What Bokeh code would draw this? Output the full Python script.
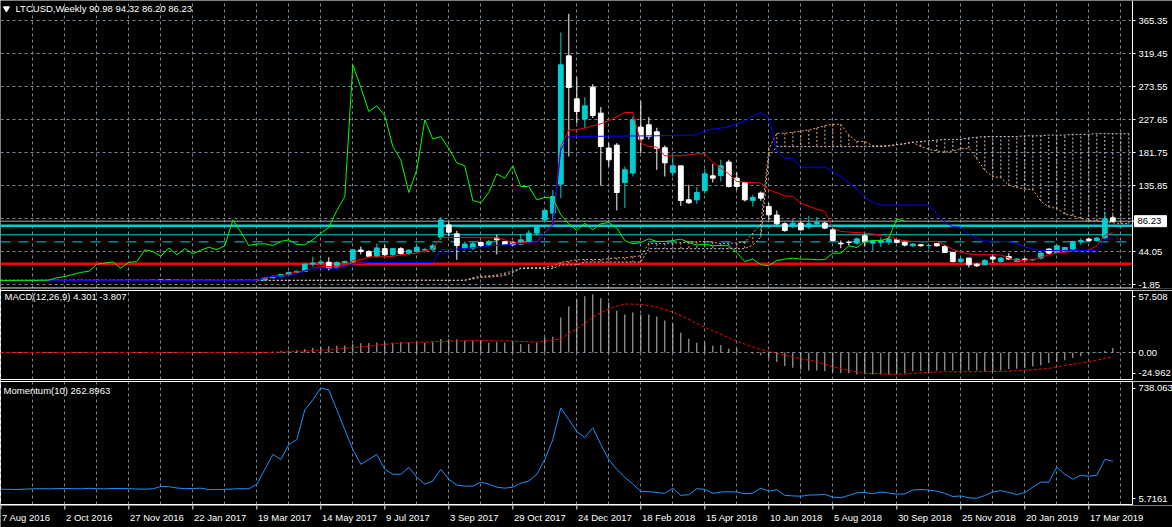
from bokeh.plotting import figure
from bokeh.layouts import column
from bokeh.models import Range1d, FixedTicker, ColumnDataSource
from bokeh.core.properties import value
from bokeh.embed import file_html
from bokeh.resources import INLINE

# ---------------- data ----------------
opens = [3.85, 3.75, 3.75, 3.7, 3.8, 3.85, 3.8, 3.85, 3.8, 3.85,
         3.85, 3.8, 3.9, 3.8, 3.85, 3.9, 3.9, 3.85, 3.8, 3.75,
         4.4, 4.35, 4.0, 3.8, 3.9, 3.85, 3.95, 3.75, 3.8, 3.85,
         3.9, 3.85, 3.9, 4.2, 7.5, 9.2, 12.0, 15.0, 16.5, 26.5,
         28.0, 29.0, 21.5, 29.0, 29.5, 46.0, 44.0, 37.5, 48.0, 39.5,
         48.0, 41.0, 44.0, 46.0, 46.5, 64.0, 81.0, 68.7, 48.8, 48.7,
         56.6, 53.4, 62.7, 57.6, 56.6, 54.3, 58.0, 69.6, 88.1, 97.5,
         137.8, 316.2, 256.4, 228.2, 272.7, 236.5, 187.9, 192.0, 140.0, 153.1,
         217.1, 220.3, 210.5, 188.3, 153.9, 163.2, 116.0, 116.0, 128.9, 149.3,
         149.8, 168.4, 146.1, 140.0, 115.0, 125.3, 106.6, 94.7, 82.6, 78.8,
         83.5, 78.0, 82.6, 83.5, 74.2, 55.7, 56.6, 55.7, 65.9, 55.7,
         56.6, 57.5, 60.3, 56.6, 52.0, 53.4, 52.4, 54.8, 51.0, 42.7,
         30.1, 34.9, 26.5, 25.5, 36.3, 30.1, 37.1, 30.1, 33.5, 32.5,
         34.9, 47.4, 42.7, 44.0, 47.4, 57.5, 61.3, 59.3, 62.7, 90.98]
highs = [4.0, 3.85, 3.85, 3.85, 3.95, 3.9, 3.95, 3.9, 3.9, 3.95,
         3.9, 3.95, 4.0, 3.9, 3.95, 4.0, 3.95, 3.95, 3.9, 4.5,
         4.6, 4.7, 4.1, 4.0, 3.95, 4.0, 4.0, 3.85, 3.9, 4.0,
         4.1, 4.0, 4.3, 8.0, 10.5, 13.0, 16.0, 17.5, 27.0, 37.0,
         33.0, 36.0, 30.0, 31.5, 47.0, 51.0, 46.0, 55.0, 53.0, 49.0,
         50.0, 47.0, 53.0, 49.0, 55.0, 92.0, 85.0, 72.8, 58.0, 58.0,
         58.0, 60.0, 67.3, 58.5, 58.0, 68.0, 74.0, 79.6, 103.0, 129.9,
         348.7, 374.7, 286.1, 258.8, 276.9, 244.9, 194.8, 194.8, 162.3, 231.8,
         252.7, 231.0, 216.1, 191.5, 176.2, 163.2, 136.8, 133.6, 158.7, 166.0,
         171.6, 171.6, 153.9, 140.0, 122.9, 127.5, 111.4, 101.1, 84.4, 89.1,
         85.4, 93.7, 91.9, 85.4, 76.6, 59.3, 59.3, 63.5, 69.6, 60.3,
         63.5, 64.9, 61.7, 58.0, 55.7, 54.5, 54.8, 56.0, 53.4, 44.0,
         36.3, 34.9, 27.9, 33.5, 40.4, 36.0, 41.8, 35.0, 35.0, 34.0,
         43.0, 48.5, 53.0, 50.5, 59.0, 62.7, 63.0, 64.0, 99.7, 94.32]
lows = [3.7, 3.65, 3.65, 3.7, 3.7, 3.7, 3.75, 3.75, 3.75, 3.8,
        3.75, 3.75, 3.75, 3.7, 3.8, 3.85, 3.8, 3.75, 3.7, 3.7,
        4.2, 3.5, 3.6, 3.75, 3.75, 3.8, 3.6, 3.65, 3.75, 3.75,
        3.8, 3.7, 3.8, 4.1, 7.0, 8.5, 11.5, 14.0, 16.0, 23.0,
        25.0, 17.6, 20.0, 27.5, 28.0, 40.0, 36.0, 36.0, 38.0, 38.0,
        39.0, 39.0, 43.0, 43.0, 45.0, 60.0, 65.0, 32.5, 46.4, 46.0,
        50.0, 51.0, 40.0, 53.0, 52.0, 53.0, 56.0, 66.0, 85.0, 88.1,
        118.0, 176.2, 222.6, 215.7, 229.6, 135.9, 162.3, 101.1, 104.4, 148.4,
        180.9, 200.0, 157.7, 148.4, 148.4, 107.6, 110.4, 110.4, 124.3, 140.0,
        141.4, 133.1, 129.9, 113.6, 106.6, 114.6, 88.1, 81.2, 71.5, 76.6,
        73.3, 75.2, 78.8, 75.2, 58.0, 48.8, 52.4, 53.4, 51.0, 45.0,
        50.2, 53.4, 55.7, 51.0, 51.0, 51.0, 47.4, 51.0, 41.8, 28.8,
        27.9, 21.8, 22.4, 24.6, 27.9, 29.0, 32.5, 29.5, 30.0, 30.5,
        33.0, 40.5, 42.0, 43.0, 46.5, 53.4, 58.0, 58.0, 60.3, 86.2]
closes = [3.75, 3.75, 3.7, 3.8, 3.85, 3.8, 3.85, 3.8, 3.85, 3.85,
          3.8, 3.9, 3.8, 3.85, 3.9, 3.9, 3.85, 3.8, 3.75, 4.4,
          4.35, 4.0, 3.8, 3.9, 3.85, 3.95, 3.75, 3.8, 3.85, 3.9,
          3.85, 3.9, 4.2, 7.5, 9.2, 12.0, 15.0, 16.5, 26.5, 28.0,
          29.5, 21.0, 29.0, 30.0, 46.4, 44.0, 37.5, 49.0, 39.5, 48.0,
          41.0, 46.0, 50.0, 46.5, 52.0, 88.0, 71.0, 52.4, 54.4, 54.8,
          52.4, 58.0, 60.3, 53.8, 53.4, 60.3, 69.6, 77.4, 101.1, 120.5,
          303.7, 272.2, 238.8, 246.7, 233.2, 190.1, 171.6, 126.1, 157.7, 227.2,
          200.4, 204.0, 187.3, 167.4, 163.2, 115.0, 111.8, 126.1, 152.1, 146.1,
          163.2, 134.5, 134.5, 115.9, 119.2, 118.3, 95.1, 82.6, 73.3, 83.5,
          74.2, 82.6, 84.4, 76.6, 59.3, 54.8, 56.5, 61.7, 58.0, 58.0,
          59.3, 61.3, 56.6, 53.0, 54.4, 52.0, 52.4, 52.0, 42.7, 30.1,
          33.5, 25.5, 24.2, 31.5, 33.5, 34.9, 33.5, 33.5, 32.5, 32.8,
          41.8, 41.8, 52.0, 49.6, 58.0, 59.3, 59.3, 62.7, 89.5, 86.23]

tenkan_idx = [0, 18, 19, 27, 28, 32, 33, 34, 35, 36, 37, 38, 39, 40, 42, 43, 44, 45, 46, 49,
              50, 52, 53, 54, 55, 62, 63, 64, 66, 67, 68, 69, 70, 71, 72, 73, 74, 75, 76, 77,
              78, 79, 80, 81, 82, 83, 85, 87, 88, 89, 90, 91, 92, 95, 96, 98, 99, 100, 101, 102,
              103, 104, 105, 108, 110, 111, 112, 113, 114, 117, 118, 119, 120, 121, 122, 125, 126, 127, 129, 130,
              131, 132, 134, 135, 136, 137, 138, 139]
tenkan_val = [3.9, 3.9, 4.1, 4.1, 3.9, 4.0, 6.0, 10.2, 10.2, 12.5, 15.5, 17.5, 21.0, 23.0, 23.0, 24.6, 31.5, 32.5, 36.3, 37.1,
              39.5, 41.8, 45.4, 47.4, 63.8, 63.0, 60.3, 55.7, 56.6, 58.0, 69.6, 83.5, 190.1, 213.3, 213.3, 215.7, 218.9, 221.7, 226.0, 231.8,
              237.4, 237.4, 194.8, 190.1, 189.3, 177.2, 177.2, 179.9, 179.9, 168.0, 160.0, 152.0, 141.4, 139.2, 129.9, 121.5, 120.6, 111.4, 107.0, 103.0,
              99.7, 76.6, 71.9, 69.6, 67.0, 64.9, 61.0, 59.0, 58.0, 58.0, 53.0, 47.0, 43.5, 40.5, 39.5, 39.5, 34.9, 31.5, 32.5, 36.0,
              39.5, 42.0, 44.5, 45.0, 46.0, 52.0, 66.3, 70.5]

kijun_idx = [0, 32, 33, 34, 36, 37, 39, 42, 43, 44, 46, 54, 55, 57, 60, 61, 64, 67, 68, 69,
             70, 71, 82, 87, 88, 89, 90, 91, 92, 93, 94, 95, 96, 97, 98, 99, 100, 103, 104, 105,
             106, 107, 108, 109, 110, 116, 117, 118, 119, 120, 121, 122, 123, 126, 127, 128, 129, 130, 137, 138,
             139]
kijun_val = [3.9, 3.9, 8.5, 9.3, 10.25, 13.0, 21.0, 21.0, 23.2, 26.5, 28.75, 28.75, 46.4, 47.4, 50.0, 51.5, 54.3, 56.6, 69.6, 80.0,
             185.5, 204.0, 205.0, 206.4, 212.0, 214.3, 215.7, 217.9, 221.0, 226.0, 232.0, 237.4, 230.0, 185.0, 174.0, 174.0, 161.4, 161.4, 155.0, 148.0,
             139.2, 131.0, 120.0, 112.0, 108.6, 108.6, 96.5, 85.0, 78.8, 78.0, 68.7, 62.0, 58.5, 58.0, 55.0, 51.0, 47.5, 45.5, 45.5, 61.7,
             61.7]

# Senkou spans (already displaced 26 bars forward), one value per bar 0..141
span_a = [3.9, 3.9, 3.9, 3.9, 3.9, 3.9, 3.9, 3.9, 3.9, 3.9,
          3.9, 3.9, 3.9, 3.9, 3.9, 3.9, 3.9, 3.9, 3.9, 3.9,
          3.9, 3.9, 3.9, 3.9, 3.9, 3.9, 3.9, 3.9, 3.9, 3.9,
          3.9, 3.9, 3.9, 3.9, 3.9, 3.9, 3.9, 3.9, 3.9, 3.9,
          3.9, 3.9, 3.9, 3.9, 3.9, 4.1, 4.1, 4.1, 4.1, 4.1,
          4.1, 4.1, 4.1, 4.1, 4.0, 3.9, 3.9, 3.9, 4.0, 7.7,
          9.8, 10.1, 11.4, 14.0, 17.0, 21.0, 22.0, 22.0, 22.0, 23.9,
          29.0, 30.6, 32.4, 33.0, 33.0, 33.0, 34.0, 35.3, 35.3, 37.1,
          38.0, 55.1, 55.0, 55.2, 56.0, 56.3, 57.0, 57.5, 58.0, 57.0,
          55.0, 55.5, 56.0, 57.3, 69.6, 82.0, 187.0, 208.5, 208.5, 210.0,
          211.5, 213.0, 216.0, 219.0, 221.0, 221.0, 206.0, 197.5, 197.0, 191.0,
          191.0, 191.0, 192.5, 194.0, 196.0, 190.0, 186.0, 184.0, 182.0, 184.0,
          187.0, 188.0, 173.0, 157.0, 148.0, 147.0, 136.0, 133.0, 131.0, 130.0,
          114.0, 106.0, 104.0, 96.0, 94.0, 90.0, 87.0, 87.0, 85.0, 84.0,
          83.0, 83.0]
span_b = [4.0, 4.0, 4.0, 4.0, 4.0, 4.0, 4.0, 4.0, 4.0, 4.0,
          4.0, 4.0, 4.0, 4.0, 4.0, 4.0, 4.0, 4.0, 4.0, 4.0,
          4.0, 4.0, 4.0, 4.0, 4.0, 4.0, 4.0, 4.0, 4.0, 4.0,
          4.0, 4.0, 4.0, 4.0, 4.0, 4.0, 4.0, 4.0, 4.0, 4.0,
          4.0, 4.0, 4.0, 4.0, 4.0, 4.1, 4.1, 4.1, 4.1, 4.1,
          4.1, 4.1, 4.1, 4.1, 4.1, 4.1, 4.1, 4.1, 4.1, 5.8,
          8.0, 8.5, 9.5, 10.5, 15.0, 20.3, 20.3, 20.3, 20.3, 20.3,
          25.2, 25.2, 25.2, 29.4, 29.4, 29.4, 29.4, 29.4, 29.4, 29.4,
          29.4, 48.0, 48.0, 48.0, 48.0, 48.0, 48.0, 48.0, 48.0, 48.0,
          48.0, 48.0, 48.0, 48.0, 53.0, 64.0, 176.0, 190.0, 190.0, 190.0,
          190.0, 190.0, 190.0, 190.0, 190.0, 190.0, 190.0, 190.0, 190.0, 190.0,
          190.0, 191.0, 193.0, 194.0, 196.0, 197.0, 198.0, 199.0, 200.0, 200.0,
          200.0, 202.0, 203.0, 204.0, 204.0, 204.0, 204.0, 204.0, 205.0, 205.0,
          205.0, 206.0, 206.0, 206.0, 207.0, 207.0, 207.0, 208.0, 208.0, 208.0,
          208.0, 208.0]

macd_hist = [0.0, 0.0, 0.0, 0.0, 0.0, 0.0, 0.0, 0.0, 0.0, 0.0,
             0.0, 0.0, 0.0, 0.0, 0.0, 0.0, 0.0, 0.0, 0.0, 0.0,
             0.0, 0.0, 0.0, 0.0, 0.0, 0.0, 0.0, 0.0, 0.0, 0.0,
             0.0, 0.0, 0.0, 0.3, 0.8, 1.3, 1.8, 2.3, 3.2, 4.3,
             5.2, 5.8, 6.2, 6.5, 7.8, 8.6, 8.8, 9.2, 9.3, 9.1,
             9.7, 9.4, 9.7, 9.1, 9.7, 12.5, 12.5, 12.2, 10.9, 10.6,
             11.6, 9.1, 9.7, 9.1, 9.7, 7.8, 7.8, 9.1, 14.1, 14.7,
             32.5, 42.8, 49.0, 52.2, 54.0, 50.3, 46.5, 38.7, 35.3, 37.2,
             35.3, 35.3, 33.4, 29.7, 26.6, 18.4, 12.8, 9.1, 9.1, 6.2,
             6.9, 3.7, 3.7, -0.3, -0.9, -2.5, -5.6, -8.7, -12.5, -14.1,
             -15.9, -16.6, -16.6, -17.2, -18.1, -19.1, -19.1, -20.3, -20.3, -20.3,
             -20.3, -20.3, -20.3, -19.1, -17.2, -17.2, -17.2, -16.6, -16.6, -16.6,
             -16.6, -16.6, -16.6, -17.2, -17.2, -16.6, -15.3, -15.0, -14.1, -12.8,
             -11.9, -9.7, -8.7, -7.2, -5.0, -3.4, -0.9, -0.3, 1.6, 4.3]
signal_idx = [0, 33, 36, 40, 44, 48, 49, 52, 56, 60, 64, 67, 68, 70, 71, 72, 73, 74, 75, 76,
              77, 78, 80, 82, 84, 85, 87, 88, 90, 92, 93, 95, 97, 99, 100, 102, 104, 106, 108, 110,
              112, 114, 116, 118, 120, 122, 125, 127, 129, 131, 133, 135, 137, 139]
signal_val = [0.0, 0.1, 0.7, 2.2, 4.5, 7.5, 8.4, 9.4, 10.6, 11.2, 10.6, 9.7, 10.6, 12.5, 17.8, 22.0, 27.0, 32.8, 37.0, 40.5,
              43.0, 45.0, 44.7, 42.2, 37.5, 34.4, 27.0, 23.5, 16.9, 10.5, 7.8, 2.8, -0.5, -4.2, -5.7, -8.5, -13.2, -16.6, -19.1, -19.7,
              -20.3, -19.4, -18.4, -17.8, -17.8, -17.8, -17.5, -16.9, -15.9, -14.7, -11.9, -9.7, -7.2, -3.8]

momentum = [97, 96, 95, 97, 99, 100, 99, 100, 101, 100,
            99, 102, 100, 99, 101, 101, 100, 98, 97, 99,
            113, 112, 104, 100, 101, 103, 94, 95, 96, 98,
            100, 99, 126, 215, 304, 274, 363, 392, 569, 629,
            699, 688, 569, 451, 333, 245, 274, 304, 215, 186,
            186, 227, 168, 127, 145, 215, 156, 121, 115, 115,
            139, 127, 109, 103, 109, 133, 145, 186, 274, 392,
            581, 511, 440, 404, 463, 363, 274, 215, 168, 127,
            85, 82, 78, 72, 103, 60, 64, 100, 96, 72,
            80, 82, 80, 70, 73, 103, 85, 94, 60, 57,
            55, 62, 63, 66, 50, 46, 60, 75, 78, 70,
            80, 74, 67, 69, 92, 95, 92, 85, 72, 53,
            57, 45, 43, 59, 80, 88, 78, 65, 76, 109,
            139, 139, 227, 186, 156, 180, 174, 180, 274, 262.9]

price_levels = [-1.85, 44.05, 89.95, 135.85, 181.75, 227.65, 273.55, 319.45, 365.35]
price_label_levels = [-1.85, 44.05, 135.85, 181.75, 227.65, 273.55, 319.45, 365.35]
price_label_texts = ["-1.85", "44.05", "135.85", "181.75", "227.65", "273.55", "319.45", "365.35"]
hline_levels = [26.9, 79.8, 67.3, 57.5]
last_price = 86.23
last_price_text = "86.23"

time_idx = [0, 8, 16, 24, 32, 40, 48, 56, 64, 72, 80, 88, 96, 104, 112, 120, 128, 136]
time_labels = ["7 Aug 2016", "2 Oct 2016", "27 Nov 2016", "22 Jan 2017", "19 Mar 2017",
               "14 May 2017", "9 Jul 2017", "3 Sep 2017", "29 Oct 2017", "24 Dec 2017",
               "18 Feb 2018", "15 Apr 2018", "10 Jun 2018", "5 Aug 2018", "30 Sep 2018",
               "25 Nov 2018", "20 Jan 2019", "17 Mar 2019"]

header_text = "LTCUSD,Weekly  90.98 94.32 86.20 86.23"
macd_text = "MACD(12,26,9) 4.301 -3.807"
mom_text = "Momentum(10) 262.8963"

# ---------------- styling ----------------
FONT = "Liberation Sans"
FS = "9.5px"
GRID = "#778899"
BULL = "#00CED1"
BEAR = "#FFFFFF"
SANDY = "#F4A460"
THISTLE = "#D8BFD8"

n = len(closes)
bars = list(range(n))
X0, X1 = -0.04, 141.46          # bar-range covered by the chart area (8 px per bar)
xr = Range1d(X0, X1)
grid_ticks = list(range(0, 144, 4))


def style_axis(ax):
    ax.axis_line_color = "white"
    ax.major_tick_line_color = "white"
    ax.major_tick_in = 0
    ax.major_tick_out = 3
    ax.minor_tick_line_color = None
    ax.major_label_text_color = "white"
    ax.major_label_text_font = FONT
    ax.major_label_text_font_size = FS
    ax.major_label_standoff = 3


def make_panel(frame_h, yr, top, bottom):
    p = figure(frame_width=1132, frame_height=frame_h, x_range=xr, y_range=yr,
               x_axis_location=None, y_axis_location="right",
               output_backend="svg", toolbar_location=None,
               min_border_left=0, min_border_right=40,
               min_border_top=top, min_border_bottom=bottom,
               background_fill_color="black", border_fill_color="black",
               outline_line_color="white", outline_line_width=1)
    p.xgrid.ticker = FixedTicker(ticks=grid_ticks)
    p.xgrid.grid_line_color = GRID
    p.xgrid.grid_line_dash = "3 3"
    p.ygrid.grid_line_color = GRID
    p.ygrid.grid_line_dash = "3 3"
    style_axis(p.yaxis[0])
    return p


# ---------------- main price panel (its price scale drawn in-frame so the
# last-price box can sit on it) ----------------
PX = 1.391                                   # price units per pixel
y_top, y_bot = 393.2, -6.02 - PX             # frame rows 0..288
p1 = figure(frame_width=1172, frame_height=288, x_range=Range1d(X0, X0 + 1172 / 8),
            y_range=Range1d(y_bot, y_top), x_axis_location=None, y_axis_location=None,
            output_backend="svg", toolbar_location=None, min_border=0, min_border_bottom=2,
            background_fill_color="black", border_fill_color="black", outline_line_color=None)
p1.xgrid.ticker = FixedTicker(ticks=grid_ticks)
p1.xgrid.grid_line_color = GRID
p1.xgrid.grid_line_dash = "3 3"
p1.ygrid.visible = False

nl = len(price_levels)
p1.segment(x0=[X0] * nl, y0=price_levels, x1=[X1] * nl, y1=price_levels,
           color=GRID, line_dash="3 3", line_width=1)

line_colors = ["#FF0000", BULL, BULL, BULL]
line_widths = [2.5, 2.5, 1, 1]
line_dashes = ["solid", "solid", "solid", "10 8"]
for lvl, c, w, d in zip(hline_levels, line_colors, line_widths, line_dashes):
    p1.segment(x0=[X0], y0=[lvl], x1=[X1], y1=[lvl], color=c, line_width=w, line_dash=d)
p1.segment(x0=[X0], y0=[last_price], x1=[X1], y1=[last_price], color="#A9A9A9", line_width=1)

# Ichimoku cloud (dotted hatch per bar) and span lines
cloud_idx = list(range(len(span_a)))
cloud_col = [SANDY if a >= b else THISTLE for a, b in zip(span_a, span_b)]
p1.segment(x0=cloud_idx, y0=span_a, x1=cloud_idx, y1=span_b, color=cloud_col,
           line_width=1, line_dash="2 2")
p1.line(cloud_idx, span_a, color=SANDY, line_width=1, line_dash="2 2")
p1.line(cloud_idx, span_b, color=THISTLE, line_width=1, line_dash="2 2")

# candles
colors = [BULL if c >= o else BEAR for o, c in zip(opens, closes)]
src = ColumnDataSource(dict(x=bars, h=highs, l=lows,
                            top=[max(o, c) for o, c in zip(opens, closes)],
                            bot=[min(o, c) for o, c in zip(opens, closes)],
                            color=colors))
p1.segment(x0="x", y0="l", x1="x", y1="h", color="color", line_width=1, source=src)
p1.vbar(x="x", width=0.6, top="top", bottom="bot", fill_color="color",
        line_color="color", line_width=1, source=src)

# Ichimoku lines
p1.line(tenkan_idx, tenkan_val, color="#FF0000", line_width=1)
p1.line(kijun_idx, kijun_val, color="#0000FF", line_width=1)
p1.line(bars[:n - 26], closes[26:], color="#00FF00", line_width=1)

# chart border (right and bottom) and the price scale
y_edge = -6.02 - PX / 2
p1.segment(x0=[X1, X0], y0=[y_edge, y_edge], x1=[X1, X1], y1=[y_top, y_edge],
           color="white", line_width=1)
nt = len(price_label_levels)
p1.segment(x0=[X1] * nt, y0=price_label_levels, x1=[X1 + 3 / 8] * nt, y1=price_label_levels,
           color="white", line_width=1)
p1.text(x=[X1 + 6 / 8] * nt, y=price_label_levels, text=price_label_texts, text_color="white",
        text_font=value(FONT), text_font_size=FS, text_align="left", text_baseline="middle")
p1.segment(x0=[X1], y0=[last_price], x1=[X1 + 3 / 8], y1=[last_price], color="white")
p1.rect(x=[X1 + 18 / 8], y=[last_price], width=32, height=11, width_units="screen",
        height_units="screen", fill_color="white", line_color="white")
p1.text(x=[X1 + 5 / 8], y=[last_price], text=[last_price_text], text_color="black",
        text_font=value(FONT), text_font_size=FS, text_align="left", text_baseline="middle")

# header
p1.scatter(x=[0.7], y=[382.0], marker="inverted_triangle", size=6, color="white")
p1.text(x=[1.84], y=[382.0], text=[header_text], text_color="white",
        text_font=value(FONT), text_font_size=FS, text_align="left", text_baseline="middle")

# ---------------- MACD panel ----------------
p2 = make_panel(89, Range1d(-24.962, 57.508), 0, 2)
p2.ygrid.ticker = FixedTicker(ticks=[0])
p2.yaxis.ticker = FixedTicker(ticks=[51.7, 0, -19.15])
p2.yaxis.major_label_overrides = {51.7: "57.508", 0: "0.00", -19.15: "-24.962"}
p2.segment(x0=bars, y0=[0] * n, x1=bars, y1=macd_hist, color="#C0C0C0", line_width=1)
p2.line(signal_idx, signal_val, color="#FF0000", line_width=1, line_dash="3 2")
p2.text(x=[0.46], y=[51.95], text=[macd_text], text_color="white",
        text_font=value(FONT), text_font_size=FS, text_align="left", text_baseline="middle")

# ---------------- Momentum panel ----------------
p3 = make_panel(123, Range1d(5.7161, 738.063), 0, 1)
p3.ygrid.visible = False
p3.yaxis.ticker = FixedTicker(ticks=[697.9, 40])
p3.yaxis.major_label_overrides = {697.9: "738.063", 40: "5.7161"}
p3.line(bars, momentum, color="#1E90FF", line_width=1)
p3.text(x=[0.34], y=[684.9], text=[mom_text], text_color="white",
        text_font=value(FONT), text_font_size=FS, text_align="left", text_baseline="middle")

# ---------------- time scale ----------------
p4 = figure(frame_width=1172, frame_height=22, x_range=Range1d(X0, X0 + 1172 / 8),
            y_range=Range1d(0, 22), x_axis_location=None, y_axis_location=None,
            output_backend="svg", toolbar_location=None, min_border=0,
            background_fill_color="black", border_fill_color="black",
            outline_line_color=None)
p4.grid.visible = False
p4.segment(x0=time_idx, y0=[22] * len(time_idx), x1=time_idx, y1=[18] * len(time_idx),
           color="white", line_width=1)
p4.text(x=[t + 0.15 for t in time_idx], y=[10.5] * len(time_idx), text=time_labels,
        text_color="white", text_font=value(FONT), text_font_size=FS,
        text_align="left", text_baseline="middle")

layout = column(p1, p2, p3, p4, spacing=0)

open("out.html", "w").write(file_html(layout, INLINE))
